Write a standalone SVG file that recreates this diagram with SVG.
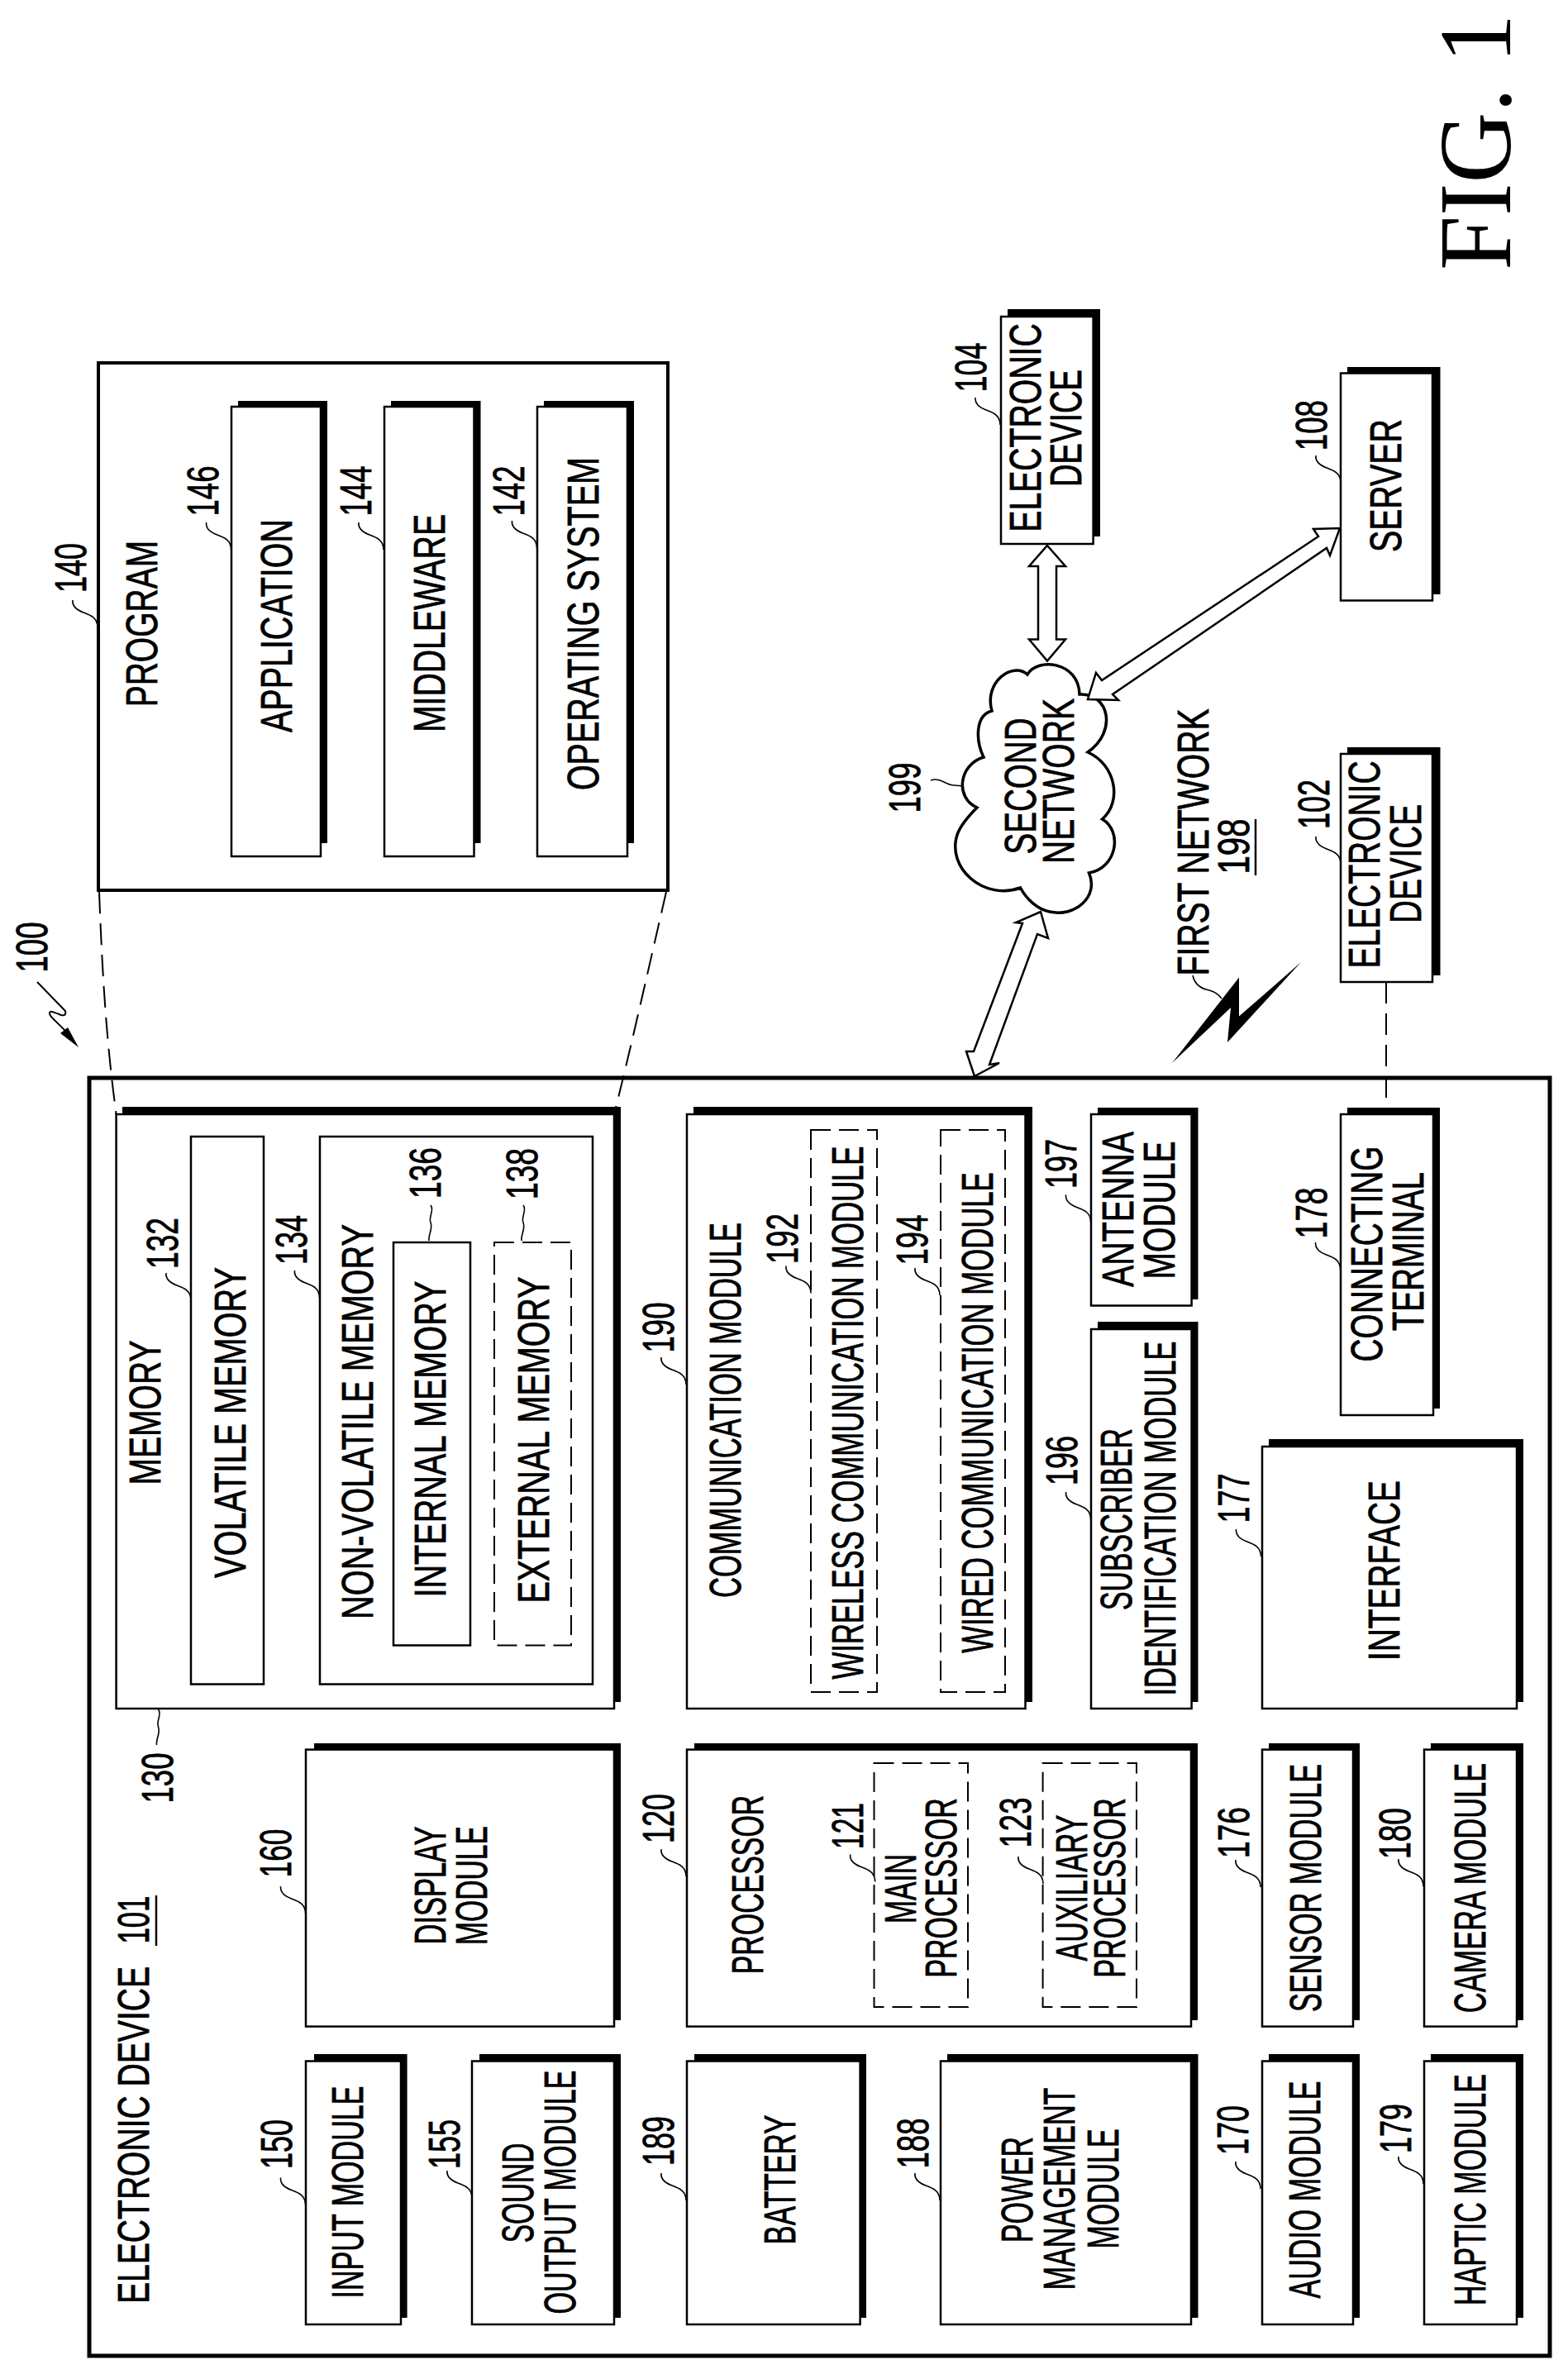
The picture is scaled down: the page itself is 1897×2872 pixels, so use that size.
<svg xmlns="http://www.w3.org/2000/svg" width="1897" height="2872" viewBox="0 0 1897 2872">
<style>
text{font-family:"Liberation Sans",Arial,sans-serif;font-size:54px;fill:#000;stroke:#000;stroke-width:.8px;text-anchor:middle}
text.fig{font-family:"Liberation Serif","Times New Roman",serif;font-size:124px;stroke:none}
.b{fill:#fff;stroke:#000;stroke-width:2.5}
.d{fill:#fff;stroke:#000;stroke-width:2;stroke-dasharray:24 10}
.s{fill:#000}
.ln{fill:none;stroke:#000;stroke-width:1.6}
.dl{fill:none;stroke:#000;stroke-width:2;stroke-dasharray:26 12}
.ar{fill:#fff;stroke:#000;stroke-width:2.5;stroke-linejoin:miter}
.u{stroke:#000;stroke-width:2.5}
</style>
<defs>
<path id="ld" class="ln" d="M0,0c-1,8 5,12 13,15c8,3 17,6 17,18"/>
<path id="lv" class="ln" d="M0,0c5,6 -3,14 0,21c3,8 -3,14 -2,22"/>
</defs>
<rect id="device-101-frame" x="108" y="1304" width="1767" height="1546" fill="#fff" stroke="#000" stroke-width="5"/>
<g id="label-100"><text transform="translate(57 1146) rotate(-90)" textLength="61" lengthAdjust="spacingAndGlyphs">100</text></g>
<g id="fig-label"><text class="fig" transform="translate(1827 172) rotate(-90)" textLength="310" lengthAdjust="spacingAndGlyphs">FIG. 1</text></g>
<g id="electronic-device-101">
<text transform="translate(180 2583) rotate(-90)" textLength="408" lengthAdjust="spacingAndGlyphs">ELECTRONIC DEVICE</text>
<text transform="translate(180 2322.600) rotate(-90)" textLength="58" lengthAdjust="spacingAndGlyphs">101</text>
<line class="u" x1="189" y1="2293" x2="189" y2="2354"/>
</g>
<g id="program-140">
<rect x="119" y="439" width="689" height="638" fill="#fff" stroke="#000" stroke-width="4"/>
<text transform="translate(190 754.600) rotate(-90)" textLength="201.500" lengthAdjust="spacingAndGlyphs">PROGRAM</text>
<text transform="translate(103.600 687) rotate(-90)" textLength="60" lengthAdjust="spacingAndGlyphs">140</text>
</g>
<g id="application-146"><rect class="s" x="288" y="485" width="108" height="535"/><rect class="b" x="280" y="492" width="108" height="544"/>
<text transform="translate(352.600 757) rotate(-90)" textLength="258" lengthAdjust="spacingAndGlyphs">APPLICATION</text>
<text transform="translate(264 594) rotate(-90)" textLength="61" lengthAdjust="spacingAndGlyphs">146</text></g>
<g id="middleware-144"><rect class="s" x="473" y="485" width="108.500" height="535"/><rect class="b" x="465" y="492" width="108.500" height="544"/>
<text transform="translate(538 754) rotate(-90)" textLength="264" lengthAdjust="spacingAndGlyphs">MIDDLEWARE</text>
<text transform="translate(449 594) rotate(-90)" textLength="61" lengthAdjust="spacingAndGlyphs">144</text></g>
<g id="operating-system-142"><rect class="s" x="658" y="485" width="109" height="535"/><rect class="b" x="650" y="492" width="109" height="544"/>
<text transform="translate(723.500 754.600) rotate(-90)" textLength="403" lengthAdjust="spacingAndGlyphs">OPERATING SYSTEM</text>
<text transform="translate(634 594) rotate(-90)" textLength="61" lengthAdjust="spacingAndGlyphs">142</text></g>
<g id="electronic-device-104"><rect class="s" x="1219" y="374" width="112" height="275"/><rect class="b" x="1211" y="383" width="111.600" height="275"/>
<text transform="translate(1258.600 517.500) rotate(-90)" textLength="252.500" lengthAdjust="spacingAndGlyphs">ELECTRONIC</text>
<text transform="translate(1308 518) rotate(-90)" textLength="142" lengthAdjust="spacingAndGlyphs">DEVICE</text>
<text transform="translate(1193 444.500) rotate(-90)" textLength="60" lengthAdjust="spacingAndGlyphs">104</text></g>
<g id="server-108"><rect class="s" x="1630" y="444" width="112.500" height="275"/><rect class="b" x="1622" y="451.500" width="111" height="275"/>
<text transform="translate(1695 587.600) rotate(-90)" textLength="161" lengthAdjust="spacingAndGlyphs">SERVER</text>
<text transform="translate(1605 514.700) rotate(-90)" textLength="61" lengthAdjust="spacingAndGlyphs">108</text></g>
<g id="electronic-device-102"><rect class="s" x="1630" y="904" width="112.500" height="276"/><rect class="b" x="1622" y="912" width="111" height="276"/>
<text transform="translate(1669 1046) rotate(-90)" textLength="251" lengthAdjust="spacingAndGlyphs">ELECTRONIC</text>
<text transform="translate(1719 1045) rotate(-90)" textLength="144" lengthAdjust="spacingAndGlyphs">DEVICE</text>
<text transform="translate(1608 973) rotate(-90)" textLength="60" lengthAdjust="spacingAndGlyphs">102</text></g>
<g id="second-network-199">
<path fill="#fff" stroke="#000" stroke-width="3.500" d="M1243,816C1255,795 1305,800 1306,840C1342,838 1352,885 1316,910C1350,925 1358,970 1333.500,991C1358,1005 1352,1050 1317.500,1056C1330,1085 1300,1110 1270,1103C1255,1100 1242,1088 1234.500,1074C1190,1090 1145,1050 1158,1010C1162,998 1172,987 1182,977C1155,965 1160,925 1190,916C1180,895 1180,865 1200,860C1190,825 1225,800 1243,816Z"/>
<text transform="translate(1253.400 951) rotate(-90)" textLength="165" lengthAdjust="spacingAndGlyphs">SECOND</text>
<text transform="translate(1298.600 945) rotate(-90)" textLength="200" lengthAdjust="spacingAndGlyphs">NETWORK</text>
<text transform="translate(1113 953) rotate(-90)" textLength="61" lengthAdjust="spacingAndGlyphs">199</text></g>
<g id="first-network-198">
<text transform="translate(1462 1019) rotate(-90)" textLength="323" lengthAdjust="spacingAndGlyphs">FIRST NETWORK</text>
<text transform="translate(1511 1024) rotate(-90)" textLength="67" lengthAdjust="spacingAndGlyphs">198</text>
<line class="u" x1="1519" y1="991" x2="1519" y2="1059"/></g>
<g id="memory-130"><rect class="s" x="148" y="1339" width="603" height="720"/><rect class="b" x="140.600" y="1348" width="602.400" height="719"/>
<text transform="translate(194 1709) rotate(-90)" textLength="175" lengthAdjust="spacingAndGlyphs">MEMORY</text>
<text transform="translate(209 2151) rotate(-90)" textLength="61" lengthAdjust="spacingAndGlyphs">130</text></g>
<g id="volatile-memory-132"><rect class="b" x="231" y="1375" width="88" height="662.500"/>
<text transform="translate(297 1721) rotate(-90)" textLength="376" lengthAdjust="spacingAndGlyphs">VOLATILE MEMORY</text>
<text transform="translate(215 1504) rotate(-90)" textLength="62" lengthAdjust="spacingAndGlyphs">132</text></g>
<g id="non-volatile-memory-134"><rect class="b" x="387" y="1375" width="330" height="662.500"/>
<text transform="translate(451 1720) rotate(-90)" textLength="478" lengthAdjust="spacingAndGlyphs">NON-VOLATILE MEMORY</text>
<text transform="translate(371 1500) rotate(-90)" textLength="60" lengthAdjust="spacingAndGlyphs">134</text></g>
<g id="internal-memory-136"><rect class="b" x="476" y="1503" width="93" height="487.500"/>
<text transform="translate(539 1741) rotate(-90)" textLength="383" lengthAdjust="spacingAndGlyphs">INTERNAL MEMORY</text>
<text transform="translate(533 1419) rotate(-90)" textLength="62" lengthAdjust="spacingAndGlyphs">136</text></g>
<g id="external-memory-138"><rect class="d" x="598" y="1503" width="93" height="487.500"/>
<text transform="translate(663.500 1742) rotate(-90)" textLength="395" lengthAdjust="spacingAndGlyphs">EXTERNAL MEMORY</text>
<text transform="translate(650 1420) rotate(-90)" textLength="62" lengthAdjust="spacingAndGlyphs">138</text></g>
<g id="communication-module-190"><rect class="s" x="839" y="1339" width="410" height="720"/><rect class="b" x="831" y="1348" width="409.500" height="719"/>
<text transform="translate(895.500 1706) rotate(-90)" textLength="454" lengthAdjust="spacingAndGlyphs">COMMUNICATION MODULE</text>
<text transform="translate(815 1606) rotate(-90)" textLength="61" lengthAdjust="spacingAndGlyphs">190</text></g>
<g id="wireless-communication-module-192"><rect class="d" x="981" y="1367" width="80" height="680"/>
<text transform="translate(1043.600 1709) rotate(-90)" textLength="645" lengthAdjust="spacingAndGlyphs">WIRELESS COMMUNICATION MODULE</text>
<text transform="translate(965 1498.500) rotate(-90)" textLength="61" lengthAdjust="spacingAndGlyphs">192</text></g>
<g id="wired-communication-module-194"><rect class="d" x="1138" y="1367" width="78" height="680"/>
<text transform="translate(1200.600 1709) rotate(-90)" textLength="581.500" lengthAdjust="spacingAndGlyphs">WIRED COMMUNICATION MODULE</text>
<text transform="translate(1122 1500) rotate(-90)" textLength="61" lengthAdjust="spacingAndGlyphs">194</text></g>
<g id="antenna-module-197"><rect class="s" x="1328" y="1340" width="121.500" height="232"/><rect class="b" x="1320" y="1348" width="121.600" height="231.500"/>
<text transform="translate(1371 1463) rotate(-90)" textLength="188" lengthAdjust="spacingAndGlyphs">ANTENNA</text>
<text transform="translate(1421 1464) rotate(-90)" textLength="167" lengthAdjust="spacingAndGlyphs">MODULE</text>
<text transform="translate(1302 1408) rotate(-90)" textLength="60" lengthAdjust="spacingAndGlyphs">197</text></g>
<g id="subscriber-identification-module-196"><rect class="s" x="1328" y="1599" width="121.500" height="460"/><rect class="b" x="1320" y="1608" width="121.600" height="459"/>
<text transform="translate(1368.500 1838) rotate(-90)" textLength="220" lengthAdjust="spacingAndGlyphs">SUBSCRIBER</text>
<text transform="translate(1422 1837) rotate(-90)" textLength="429" lengthAdjust="spacingAndGlyphs">IDENTIFICATION MODULE</text>
<text transform="translate(1303 1767) rotate(-90)" textLength="60" lengthAdjust="spacingAndGlyphs">196</text></g>
<g id="connecting-terminal-178"><rect class="s" x="1630" y="1340" width="112" height="364"/><rect class="b" x="1622" y="1348" width="112" height="364"/>
<text transform="translate(1672 1517) rotate(-90)" textLength="261" lengthAdjust="spacingAndGlyphs">CONNECTING</text>
<text transform="translate(1722 1514) rotate(-90)" textLength="192" lengthAdjust="spacingAndGlyphs">TERMINAL</text>
<text transform="translate(1605 1467.500) rotate(-90)" textLength="62" lengthAdjust="spacingAndGlyphs">178</text></g>
<g id="interface-177"><rect class="s" x="1535" y="1741" width="308" height="318"/><rect class="b" x="1527" y="1750" width="308" height="317"/>
<text transform="translate(1693 1900) rotate(-90)" textLength="218" lengthAdjust="spacingAndGlyphs">INTERFACE</text>
<text transform="translate(1510.500 1812.500) rotate(-90)" textLength="60" lengthAdjust="spacingAndGlyphs">177</text></g>
<g id="display-module-160"><rect class="s" x="380" y="2109" width="371" height="335"/><rect class="b" x="370" y="2116.600" width="373" height="335"/>
<text transform="translate(539 2281) rotate(-90)" textLength="143" lengthAdjust="spacingAndGlyphs">DISPLAY</text>
<text transform="translate(589 2281) rotate(-90)" textLength="144" lengthAdjust="spacingAndGlyphs">MODULE</text>
<text transform="translate(351.500 2242) rotate(-90)" textLength="59" lengthAdjust="spacingAndGlyphs">160</text></g>
<g id="input-module-150"><rect class="s" x="380" y="2485" width="112.600" height="319"/><rect class="b" x="370" y="2493.500" width="115" height="318.500"/>
<text transform="translate(439 2652) rotate(-90)" textLength="257" lengthAdjust="spacingAndGlyphs">INPUT MODULE</text>
<text transform="translate(352.600 2594) rotate(-90)" textLength="60" lengthAdjust="spacingAndGlyphs">150</text></g>
<g id="sound-output-module-155"><rect class="s" x="580" y="2485" width="171" height="319"/><rect class="b" x="571" y="2493.500" width="172" height="318.500"/>
<text transform="translate(645 2653) rotate(-90)" textLength="120.600" lengthAdjust="spacingAndGlyphs">SOUND</text>
<text transform="translate(695.500 2652) rotate(-90)" textLength="295" lengthAdjust="spacingAndGlyphs">OUTPUT MODULE</text>
<text transform="translate(556 2594) rotate(-90)" textLength="60" lengthAdjust="spacingAndGlyphs">155</text></g>
<g id="processor-120"><rect class="s" x="840" y="2109" width="609" height="335"/><rect class="b" x="831" y="2116.600" width="610" height="335"/>
<text transform="translate(923 2280) rotate(-90)" textLength="216.500" lengthAdjust="spacingAndGlyphs">PROCESSOR</text>
<text transform="translate(815 2200) rotate(-90)" textLength="60" lengthAdjust="spacingAndGlyphs">120</text></g>
<g id="main-processor-121"><rect class="d" x="1057.500" y="2133" width="113.500" height="295"/>
<text transform="translate(1108 2285) rotate(-90)" textLength="84" lengthAdjust="spacingAndGlyphs">MAIN</text>
<text transform="translate(1157 2284) rotate(-90)" textLength="217.500" lengthAdjust="spacingAndGlyphs">PROCESSOR</text>
<text transform="translate(1043.600 2209) rotate(-90)" textLength="56" lengthAdjust="spacingAndGlyphs">121</text></g>
<g id="auxiliary-processor-123"><rect class="d" x="1261.600" y="2133" width="113.400" height="295"/>
<text transform="translate(1315 2284) rotate(-90)" textLength="177" lengthAdjust="spacingAndGlyphs">AUXILIARY</text>
<text transform="translate(1361 2284) rotate(-90)" textLength="217.500" lengthAdjust="spacingAndGlyphs">PROCESSOR</text>
<text transform="translate(1247 2205) rotate(-90)" textLength="61" lengthAdjust="spacingAndGlyphs">123</text></g>
<g id="battery-189"><rect class="s" x="840" y="2485" width="208" height="319"/><rect class="b" x="831" y="2493.500" width="209.600" height="318.500"/>
<text transform="translate(962 2637) rotate(-90)" textLength="157" lengthAdjust="spacingAndGlyphs">BATTERY</text>
<text transform="translate(815 2590) rotate(-90)" textLength="60" lengthAdjust="spacingAndGlyphs">189</text></g>
<g id="power-management-module-188"><rect class="s" x="1146" y="2485" width="303.500" height="319"/><rect class="b" x="1138" y="2493.500" width="303" height="318.500"/>
<text transform="translate(1249 2649) rotate(-90)" textLength="128" lengthAdjust="spacingAndGlyphs">POWER</text>
<text transform="translate(1300 2648) rotate(-90)" textLength="245" lengthAdjust="spacingAndGlyphs">MANAGEMENT</text>
<text transform="translate(1353.400 2648) rotate(-90)" textLength="145" lengthAdjust="spacingAndGlyphs">MODULE</text>
<text transform="translate(1123 2593) rotate(-90)" textLength="61" lengthAdjust="spacingAndGlyphs">188</text></g>
<g id="sensor-module-176"><rect class="s" x="1535" y="2109" width="110" height="335"/><rect class="b" x="1527" y="2116.600" width="110" height="335"/>
<text transform="translate(1598 2284) rotate(-90)" textLength="300" lengthAdjust="spacingAndGlyphs">SENSOR MODULE</text>
<text transform="translate(1510.500 2217) rotate(-90)" textLength="62" lengthAdjust="spacingAndGlyphs">176</text></g>
<g id="camera-module-180"><rect class="s" x="1731" y="2109" width="112" height="335"/><rect class="b" x="1723" y="2116.600" width="112" height="335"/>
<text transform="translate(1797 2284) rotate(-90)" textLength="302.500" lengthAdjust="spacingAndGlyphs">CAMERA MODULE</text>
<text transform="translate(1706 2218) rotate(-90)" textLength="62" lengthAdjust="spacingAndGlyphs">180</text></g>
<g id="audio-module-170"><rect class="s" x="1535" y="2485" width="110" height="319"/><rect class="b" x="1527" y="2493.500" width="110" height="318.500"/>
<text transform="translate(1597.400 2649) rotate(-90)" textLength="263" lengthAdjust="spacingAndGlyphs">AUDIO MODULE</text>
<text transform="translate(1510 2577) rotate(-90)" textLength="60" lengthAdjust="spacingAndGlyphs">170</text></g>
<g id="haptic-module-179"><rect class="s" x="1731" y="2485" width="112" height="319"/><rect class="b" x="1723" y="2493.500" width="112" height="318.500"/>
<text transform="translate(1797 2649) rotate(-90)" textLength="280" lengthAdjust="spacingAndGlyphs">HAPTIC MODULE</text>
<text transform="translate(1707 2575) rotate(-90)" textLength="60" lengthAdjust="spacingAndGlyphs">179</text></g>
<g id="connectors">
<path class="dl" d="M120,1079C124,1190 130,1270 140.600,1348"/>
<path class="dl" d="M806,1079C785,1170 765,1260 745,1340"/>
<path class="dl" d="M1677,1188V1340"/>
<polygon class="ar" points="1267,660 1289,685 1278,685 1278,773.500 1289,773.500 1267,799.500 1245,773.500 1256,773.500 1256,685 1245,685"/>
<polygon class="ar" points="1621,639 1609,672 1605,663 1346,840 1353,847 1316,846 1326,814 1333,823 1595,649 1589,640"/>
<polygon class="ar" points="1259,1103 1268,1135 1255,1130 1197,1288 1209,1286 1179,1302 1169,1272 1178,1272 1237,1117 1229,1116"/>
<path class="s" d="M1418,1286L1499,1182.500L1499,1229.500L1574,1164L1485,1261L1489,1219Z"/>
<path class="ln" d="M1443,1180c2,10 10,16 20,18c8,2 12,6 15,10"/>
<path class="ln" style="stroke-width:2" d="M45,1188L79,1223C80,1228 78,1229 74,1228C68,1226 60,1221 60,1226C60,1229 62,1230 80,1248"/>
<polygon class="s" points="95,1267 73,1250 82,1243"/>
<path class="ln" d="M1126,944c12,-4 18,6 28,6l12,1"/>
<use href="#ld" x="201" y="1540"/><use href="#ld" x="356.500" y="1537"/><use href="#lv" x="521" y="1458"/><use href="#lv" x="633" y="1458"/>
<use href="#ld" x="800" y="1642"/><use href="#lv" x="191.500" y="2068"/><use href="#ld" x="339.600" y="2282"/><use href="#ld" x="800" y="2237"/>
<use href="#ld" x="339.600" y="2634.500"/><use href="#ld" x="541" y="2626"/><use href="#ld" x="800" y="2629"/>
<use href="#ld" x="1028.700" y="2243.500"/><use href="#ld" x="1232" y="2246"/><use href="#ld" x="1495" y="2250"/><use href="#ld" x="1692" y="2249"/>
<use href="#ld" x="1107" y="2629"/><use href="#ld" x="1495" y="2615"/><use href="#ld" x="1692" y="2609"/>
<use href="#ld" x="951" y="1531.500"/><use href="#ld" x="1107" y="1534"/><use href="#ld" x="1289.600" y="1445.400"/><use href="#ld" x="1289.600" y="1805"/>
<use href="#ld" x="1495.500" y="1850"/><use href="#ld" x="1591.600" y="1503"/><use href="#ld" x="1180" y="481"/><use href="#ld" x="1592" y="551"/><use href="#ld" x="1592" y="1012"/>
<use href="#ld" x="249.600" y="632"/><use href="#ld" x="434" y="632"/><use href="#ld" x="619.500" y="630"/><use href="#ld" x="88" y="726"/>
</g>
</svg>
